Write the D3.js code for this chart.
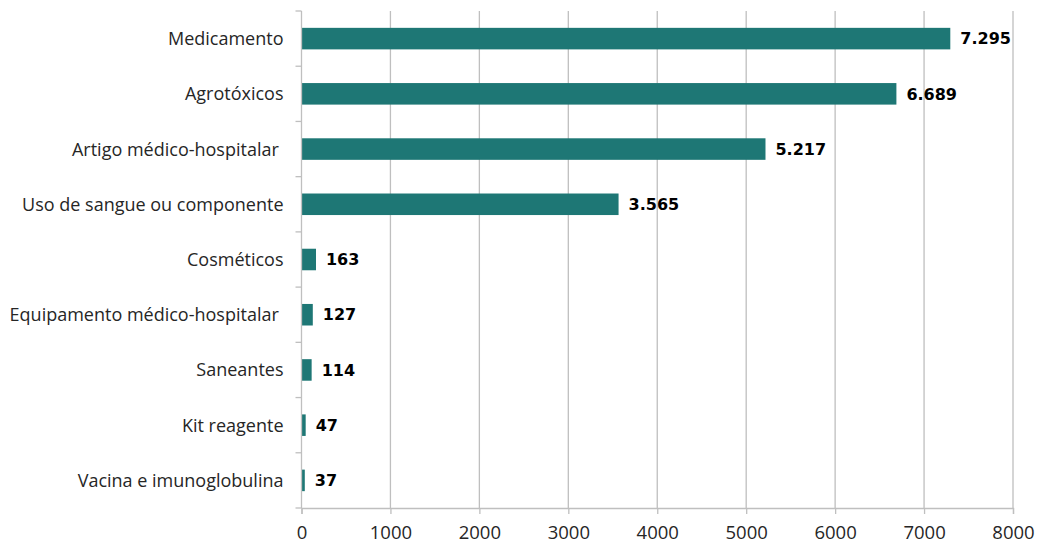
<!DOCTYPE html>
<html>
<head>
<meta charset="utf-8">
<script src="https://cdn.jsdelivr.net/npm/d3@7"></script>
<style>
  html, body { margin: 0; padding: 0; background: #fff; }
  svg { display: block; }
</style>
</head>
<body>
<svg id="chart" width="1047" height="545"></svg>
<script>
// Notificações por tipo de produto
const categories = [
  "Medicamento",
  "Agrotóxicos",
  "Artigo médico-hospitalar ",
  "Uso de sangue ou componente",
  "Cosméticos",
  "Equipamento médico-hospitalar ",
  "Saneantes",
  "Kit reagente",
  "Vacina e imunoglobulina"
];
const values = [7295, 6689, 5217, 3565, 163, 127, 114, 47, 37];
const xTicks = [0, 1000, 2000, 3000, 4000, 5000, 6000, 7000, 8000];

const svg = d3.select("#chart");
const margin = { left: 301.5, right: 34, top: 11, bottom: 37 };
const W = 1047, H = 545;

const x = d3.scaleLinear().domain([0, 8000]).range([margin.left, W - margin.right]);
const y = d3.scaleBand().domain(categories).range([margin.top, H - margin.bottom]).paddingInner(0.61).paddingOuter(0.305);

const labelFont = "'Open Sans', 'Noto Sans', sans-serif";
const fmt = d3.formatLocale({ decimal: ",", thousands: ".", grouping: [3], currency: ["R$", ""] }).format(",d");

// vertical gridlines
svg.append("g")
  .selectAll("line")
  .data(xTicks.slice(1))
  .join("line")
  .attr("x1", d => x(d)).attr("x2", d => x(d))
  .attr("y1", margin.top).attr("y2", H - margin.bottom)
  .attr("stroke", "#bfbfbf").attr("stroke-width", 1.3);

// bars
svg.append("g")
  .selectAll("rect")
  .data(values)
  .join("rect")
  .attr("x", x(0))
  .attr("y", (d, i) => y(categories[i]))
  .attr("width", d => x(d) - x(0))
  .attr("height", y.bandwidth())
  .attr("fill", "#1e7775");

// value labels
svg.append("g")
  .selectAll("text")
  .data(values)
  .join("text")
  .attr("x", d => x(d) + 10)
  .attr("y", (d, i) => y(categories[i]) + y.bandwidth() / 2)
  .attr("dy", "0.36em")
  .attr("font-family", "'DejaVu Sans', sans-serif")
  .attr("font-weight", "bold")
  .attr("font-size", 16)
  .attr("fill", "#000")
  .text(d => fmt(d));

// x axis
const xAxis = svg.append("g")
  .attr("transform", `translate(0,${H - margin.bottom})`)
  .call(d3.axisBottom(x).tickValues(xTicks).tickFormat(d3.format("d")).tickSize(6).tickPadding(12));
xAxis.select(".domain").attr("stroke", "#bfbfbf").attr("stroke-width", 1.3);
xAxis.selectAll(".tick line").attr("stroke", "#bfbfbf").attr("stroke-width", 1.3);
xAxis.selectAll(".tick text")
  .attr("font-family", labelFont).attr("font-size", 18.5).attr("fill", "#262626");

// y axis with boundary ticks between categories
const yAxisG = svg.append("g");
yAxisG.append("line")
  .attr("x1", x(0)).attr("x2", x(0))
  .attr("y1", margin.top).attr("y2", H - margin.bottom)
  .attr("stroke", "#bfbfbf").attr("stroke-width", 1.3);
const boundaries = d3.range(categories.length + 1).map(i => margin.top + i * (H - margin.top - margin.bottom) / categories.length);
yAxisG.selectAll("line.bt")
  .data(boundaries)
  .join("line")
  .attr("class", "bt")
  .attr("x1", x(0) - 6).attr("x2", x(0))
  .attr("y1", d => d).attr("y2", d => d)
  .attr("stroke", "#bfbfbf").attr("stroke-width", 1.3);

yAxisG.selectAll("text")
  .data(categories)
  .join("text")
  .attr("x", x(0) - 18)
  .attr("y", d => y(d) + y.bandwidth() / 2)
  .attr("dy", "0.36em")
  .attr("text-anchor", "end")
  .attr("xml:space", "preserve")
  .style("white-space", "pre")
  .attr("font-family", labelFont)
  .attr("font-size", 18)
  .attr("fill", "#262626")
  .text(d => d);
</script>
</body>
</html>
